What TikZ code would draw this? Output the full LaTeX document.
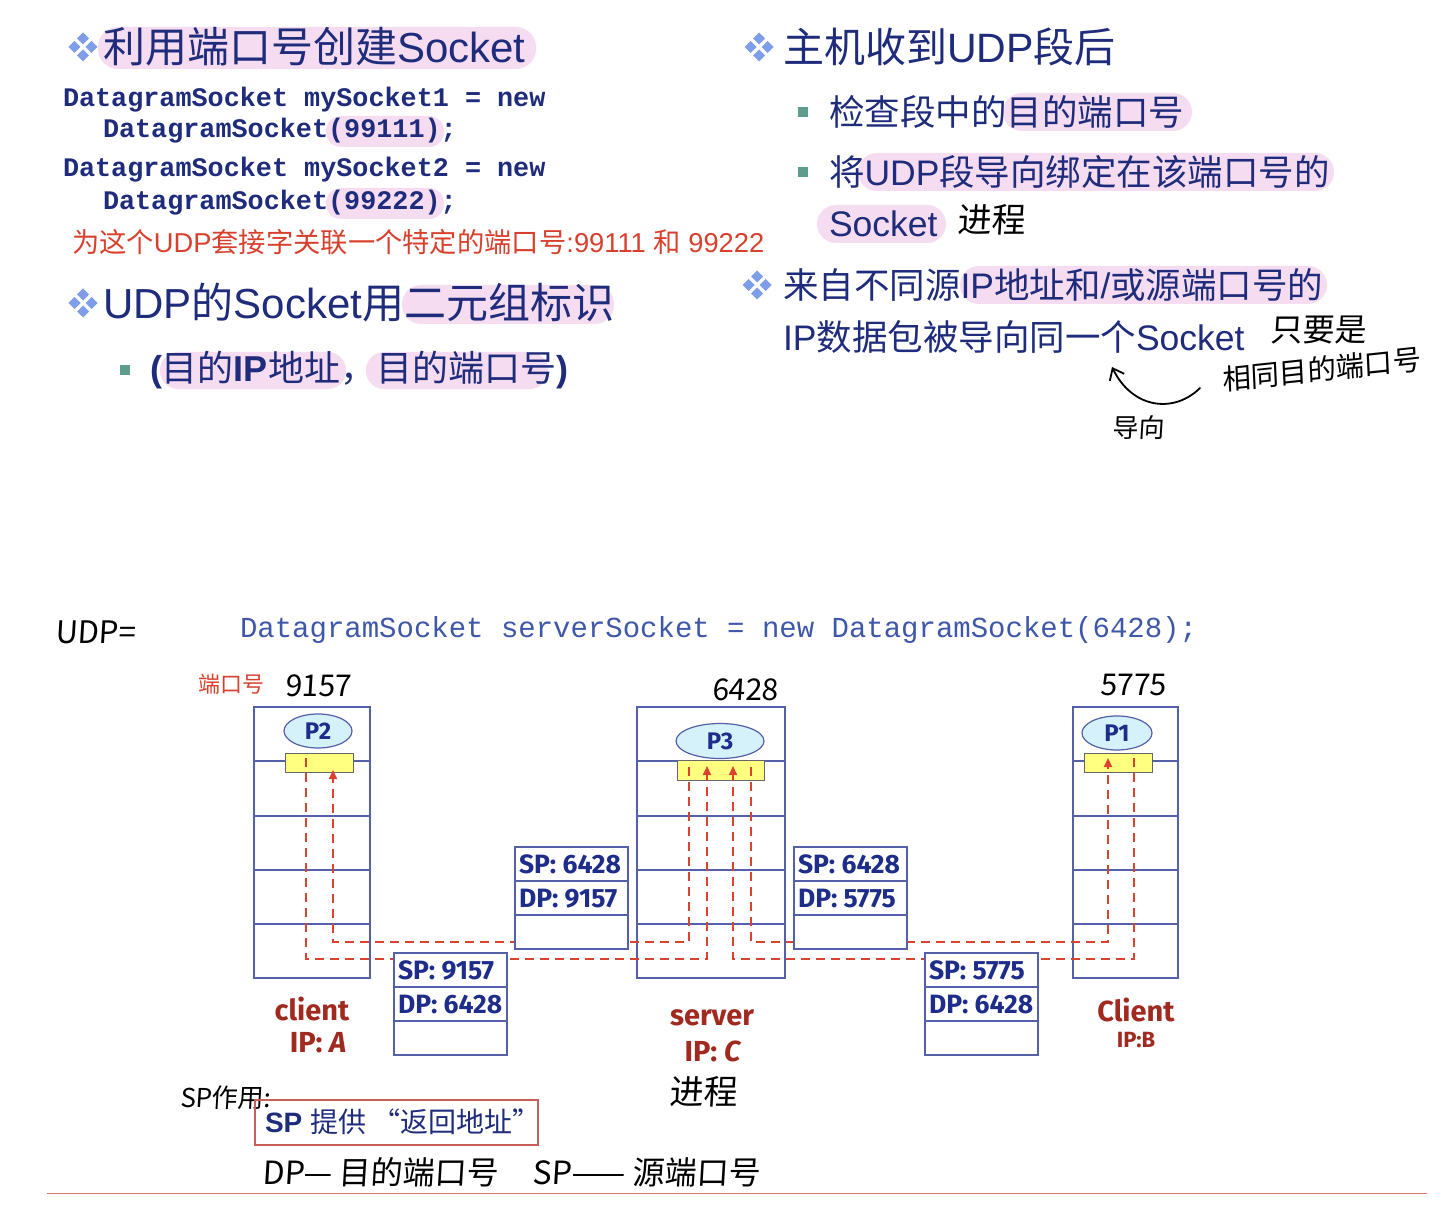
\documentclass[tikz,border=0pt]{standalone}
\usepackage{fontspec}
\setmainfont{Liberation Sans}
\newfontfamily\zhfont{Noto Sans CJK SC}
\newfontfamily\handfont[FakeSlant=0.06]{Noto Sans CJK SC}
\newfontfamily\codefont{Liberation Mono}
\newfontfamily\labfont{Fira Sans}
\usetikzlibrary{arrows.meta,shapes.geometric}

\newcommand\fsz[1]{\fontsize{#1}{#1}\selectfont}

\definecolor{navy}{HTML}{1F2C7C}
\definecolor{hlpink}{HTML}{F5DCF0}
\definecolor{bul}{HTML}{7E9EEA}
\definecolor{sqbul}{HTML}{5E9C8D}
\definecolor{redtxt}{HTML}{D8402E}
\definecolor{codeblue}{HTML}{3F57A8}
\definecolor{boxline}{HTML}{5460A8}
\definecolor{flowred}{HTML}{D9432F}
\definecolor{sockyellow}{HTML}{FFFF80}
\definecolor{procfill}{HTML}{D5F2FB}
\definecolor{hostred}{HTML}{A02A20}
\definecolor{segnavy}{HTML}{1E2D8A}
\definecolor{boxred}{HTML}{C8605A}
\definecolor{rulered}{HTML}{D9756E}

\tikzset{
  title/.style={anchor=west, text=navy, font=\fsz{42}},
  rtitle/.style={anchor=west, text=navy, font=\fsz{41}},
  item/.style={anchor=west, text=navy, font=\fsz{35.5}},
  code/.style={anchor=west, text=navy, font=\codefont\bfseries\fsz{26.8}},
  hand/.style={text=black, font=\handfont\fsz{#1}},
  hand/.default=30,
  hl/.style={fill=hlpink, rounded corners=#1},
  hl/.default=18pt,
  sqb/.style={fill=sqbul, minimum size=10pt},
  hostline/.style={draw=boxline, line width=1.5pt},
  segline/.style={draw=boxline, line width=1.5pt},
  proc/.style={ellipse, draw=boxline, line width=1.2pt, fill=procfill,
    text=segnavy, font=\labfont\bfseries\fsz{24}},
  sock/.style={rectangle, draw=black!60, line width=1pt, fill=sockyellow},
  flow/.style={draw=flowred, line width=2pt, dash pattern=on 9pt off 6pt},
  flowin/.style={flow, -{Triangle[length=9pt,width=8pt]}},
  segtxt/.style={anchor=west, text=segnavy, font=\labfont\bfseries\fsz{26.5}},
  hostlab/.style={text=hostred, font=\labfont\bfseries\fsz{#1}},
  hostlab/.default=29,
  handline/.style={draw=black, line width=1.8pt, line cap=round, line join=round},
  diabul/.pic={
    \foreach \dx/\dy in {-8.5/0,8.5/0,0/-8.5,0/8.5}
      \fill[bul] (\dx-6,\dy) -- (\dx,\dy-6) -- (\dx+6,\dy) -- (\dx,\dy+6) -- cycle;
  }
}

\begin{document}
\begin{tikzpicture}[x=1pt, y=-1pt, every node/.style={inner sep=0pt, outer sep=0pt}]
\fill[white] (0,0) rectangle (1448,1230);
\useasboundingbox (0,0) rectangle (1448,1230);

% ---------- left column ----------
\fill[hl=20pt] (98,27) rectangle (536,69);
\pic at (83,47) {diabul};
\node[title] (t1) at (103,47) {{\zhfont 利用端口号创建}Socket};

\fill[hl=15pt] (326,116) rectangle (444,147);
\fill[hl=15pt] (326,188) rectangle (444,219);
\node[code] (c1) at (63,100) {DatagramSocket mySocket1 = new};
\node[code] (c2) at (103,131) {DatagramSocket(99111);};
\node[code] (c3) at (63,170) {DatagramSocket mySocket2 = new};
\node[code] (c4) at (103,203) {DatagramSocket(99222);};

\node[anchor=west, text=redtxt, font=\fsz{27.3}] (r1) at (72,242)
  {{\zhfont 为这个}UDP{\zhfont 套接字关联一个特定的端口号}:99111 {\zhfont 和} 99222};

\fill[hl=19pt] (402,285) rectangle (614,324);
\pic at (83,303) {diabul};
\node[title] (t2) at (103,303) {UDP{\zhfont 的}Socket{\zhfont 用二元组标识}};

\fill[hl=18pt] (160,352) rectangle (346,389);
\fill[hl=18pt] (366,352) rectangle (548,389);
\node[sqb] (q1) at (125,370) {};
\node[anchor=west, text=navy, font=\fsz{36}] (s0) at (150,370)
  {\textbf{(}{\zhfont 目的}\textbf{IP}{\zhfont 地址，目的端口号}\textbf{)}};

% ---------- right column ----------
\pic at (759,47) {diabul};
\node[rtitle] (t3) at (783,47) {{\zhfont 主机收到}UDP{\zhfont 段后}};

\fill[hl=19pt] (1003,93) rectangle (1192,131);
\node[sqb] (q2) at (803,112) {};
\node[item] (i1) at (829,112) {\zhfont 检查段中的目的端口号};

\fill[hl=19pt] (858,153) rectangle (1334,191);
\node[sqb] (q3) at (803,172) {};
\node[item] (i2) at (829,172) {{\zhfont 将}UDP{\zhfont 段导向绑定在该端口号的}};

\fill[hl=19pt] (817,205) rectangle (946,243);
\node[item] (i3) at (829,224) {Socket};
\node[hand=34, anchor=west] (h1) at (957,220) {进程};

\fill[hl=19pt] (960,266) rectangle (1327,304);
\pic at (757,285) {diabul};
\node[item] (i4) at (783,285) {{\zhfont 来自不同源}IP{\zhfont 地址和}/{\zhfont 或源端口号的}};
\node[item] (i5) at (783,337) {IP{\zhfont 数据包被导向同一个}Socket};

\node[hand=32, anchor=west] (h2) at (1270,330) {只要是};
\node[hand=28.5, anchor=west, rotate=6] (h3) at (1222,380) {相同目的端口号};
\coordinate (curveA) at (1200,388);
\coordinate (curveB) at (1112,367);
\draw[handline, -{Straight Barb[length=10pt,width=16pt]}]
  (curveA) .. controls (1175,413) and (1133,410) .. (curveB);
\node[hand=26, anchor=west] (h4) at (1112,428) {导向};

% ---------- lower figure ----------
\node[hand=31, anchor=west] (h5) at (55,632) {UDP=};
\node[anchor=west, text=codeblue, font=\codefont\fsz{29}] (srv) at (240,630)
  {DatagramSocket serverSocket = new DatagramSocket(6428);};

\node[anchor=west, text=redtxt, font=\zhfont\fsz{22}] (pn) at (198,684) {端口号};
\node[hand=30, anchor=west] (n1) at (285,686) {9157};
\node[hand=30, anchor=west] (n2) at (712,690) {6428};
\node[hand=30, anchor=west] (n3) at (1100,685) {5775};

% host boxes with their layer rows
\draw[hostline] (254,707) rectangle (370,978);
\draw[hostline] (637,707) rectangle (785,978);
\draw[hostline] (1073,707) rectangle (1178,978);
\foreach \yy in {761,816,870,924} {
  \draw[hostline] (254,\yy) -- (370,\yy);
  \draw[hostline] (637,\yy) -- (785,\yy);
  \draw[hostline] (1073,\yy) -- (1178,\yy);
}

% processes and sockets
\node[proc, minimum width=68pt, minimum height=34pt] (P2) at (318,731) {P2};
\node[proc, minimum width=88pt, minimum height=35pt] (P3) at (720,741) {P3};
\node[proc, minimum width=70pt, minimum height=34pt] (P1) at (1117,733) {P1};
\node[sock, minimum width=68pt, minimum height=19pt] (sA) at (319,762.5) {};
\node[sock, minimum width=87pt, minimum height=20pt] (sC) at (720.5,770) {};
\node[sock, minimum width=68pt, minimum height=19pt] (sB) at (1118,762.5) {};

% socket ports and the two lanes
\coordinate (aOut) at (306,758);
\coordinate (aIn) at (333,770);
\coordinate (cOutA) at (689,767);
\coordinate (cInA) at (707,766);
\coordinate (cInB) at (733,766);
\coordinate (cOutB) at (751,767);
\coordinate (bIn) at (1108,758);
\coordinate (bOut) at (1134,758);
\coordinate (hiLane) at (0,942);
\coordinate (loLane) at (0,959);

\draw[flowin] (aOut) -- (aOut |- loLane) -- (cInA |- loLane) -- (cInA);
\draw[flowin] (cOutA) -- (cOutA |- hiLane) -- (aIn |- hiLane) -- (aIn);
\draw[flowin] (cOutB) -- (cOutB |- hiLane) -- (bIn |- hiLane) -- (bIn);
\draw[flowin] (bOut) -- (bOut |- loLane) -- (cInB |- loLane) -- (cInB);

% UDP segments
\foreach \x/\y/\sp/\dp/\nm in {394/953/9157/6428/g1, 515/847/6428/9157/g2,
                               794/847/6428/5775/g3, 925/953/5775/6428/g4} {
  \draw[segline, fill=white] (\x,\y) rectangle ++(113,102);
  \draw[segline] (\x,\y+34) -- ++(113,0);
  \draw[segline] (\x,\y+68) -- ++(113,0);
  \node[segtxt] (\nm-sp) at (\x+4,\y+17) {SP: \sp};
  \node[segtxt] (\nm-dp) at (\x+4,\y+51) {DP: \dp};
}

% host labels
\node[hostlab] (cA) at (312,1009) {client};
\node[hostlab] (ipA) at (318,1043) {IP: \textit{A}};
\node[hostlab] (sv) at (712,1018) {server};
\node[hostlab] (ipC) at (713,1051) {IP: \textit{C}};
\node[hostlab] (cB) at (1136,1010) {Client};
\node[hostlab=22] (ipB) at (1136,1040) {IP:B};
\node[hand=34] (h6) at (703,1092) {进程};

% note on the source port
\node[hand=26, anchor=west] (h7) at (180,1098) {SP作用:};
\node[draw=boxred, line width=1.3pt, minimum width=283pt, minimum height=45pt,
      anchor=north west] (spbox) at (255,1100) {};
\node[anchor=west, text=navy, font=\fsz{28}] (sptxt) at (265,1122)
  {\textbf{SP} {\zhfont 提供 “返回地址”}};
\node[hand=32, anchor=west] (h8) at (262,1172) {DP— 目的端口号};
\node[hand=32, anchor=west] (h9) at (532,1172) {SP—— 源端口号};

\draw[rulered, line width=1pt] (47,1193) -- (1427,1193);
\end{tikzpicture}
\end{document}
